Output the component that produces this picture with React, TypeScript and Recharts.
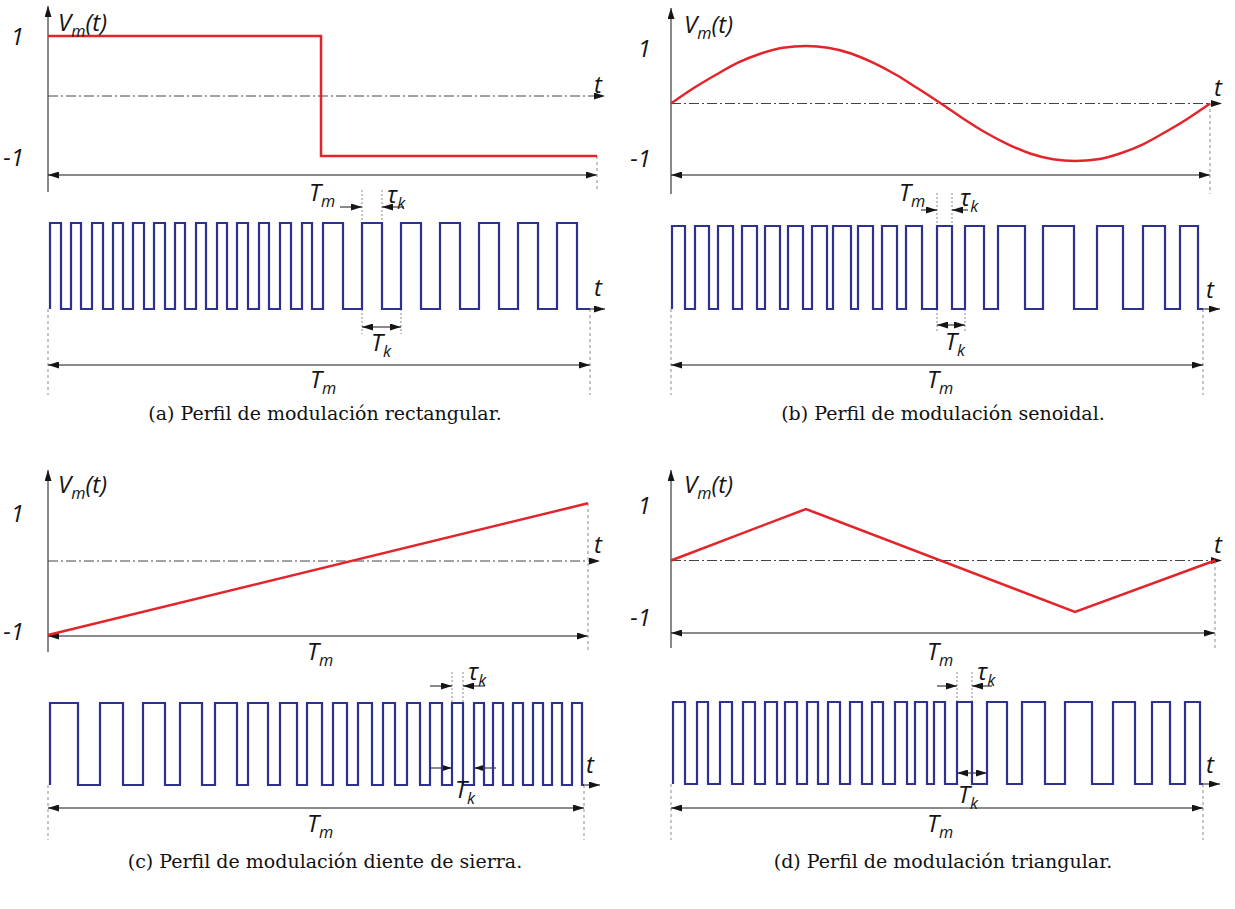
import React from "react";
import { LineChart, Line, XAxis, YAxis, ReferenceLine, ReferenceDot } from "recharts";

const W = 617;
const H = 440;
const RED = "#e4242b";
const BLUE = "#2f3190";
const INK = "#151515";
const GUIDE = "#8a8a8a";
const SANS = "'Open Sans', 'Noto Sans', sans-serif";
const SERIF = "'DejaVu Serif', 'Liberation Serif', serif";

// time is in arbitrary units, T_m spans roughly 540-550 of them

// (a) rectangular profile
const rectT = [0, 273, 273, 549];
const rectV = [1, 1, -1, -1];
const rectRise = [2, 23, 44, 65, 85, 106, 127, 148, 169, 189, 211, 232, 254, 275, 314, 353, 392, 431, 470, 509];
const rectFall = [13, 33, 55, 75, 96, 117, 137, 158, 179, 200, 221, 243, 264, 295, 334, 373, 412, 451, 490, 529];
const rectEnd = 542;

// (b) sine profile
const sineT = [0, 22, 45, 67, 90, 112, 135, 157, 180, 202, 225, 247, 270, 292, 314, 337, 359, 382, 404, 427, 449, 472, 494, 517, 539];
const sineV = [0, 0.26, 0.5, 0.71, 0.87, 0.97, 1, 0.97, 0.87, 0.71, 0.5, 0.26, 0, -0.26, -0.5, -0.71, -0.87, -0.97, -1, -0.97, -0.87, -0.71, -0.5, -0.26, 0];
const sineRise = [1, 24, 47, 71, 94, 117, 141, 162, 187, 211, 235, 266, 294, 327, 372, 426, 472, 509];
const sineFall = [14, 38, 62, 86, 109, 132, 156, 180, 202, 226, 251, 281, 313, 354, 403, 452, 494, 527];
const sineEnd = 532;

// (c) sawtooth profile
const sawT = [0, 540];
const sawV = [-1, 0.78];
const sawRise = [2, 52, 95, 132, 167, 200, 232, 259, 285, 310, 335, 359, 382, 404, 426, 445, 465, 485, 504, 524];
const sawFall = [30, 75, 117, 154, 189, 220, 249, 274, 299, 324, 347, 372, 394, 415, 436, 455, 475, 495, 514, 534];
const sawEnd = 536;

// (d) triangle profile
const triT = [0, 135, 404, 544];
const triV = [0, 1, -1, 0];
const triRise = [2, 26, 49, 72, 94, 114, 136, 157, 179, 201, 224, 244, 263, 286, 316, 351, 394, 442, 481, 514];
const triFall = [14, 37, 61, 84, 106, 126, 147, 169, 191, 212, 236, 256, 274, 301, 336, 374, 421, 464, 499, 529];
const triEnd = 532;

const toModulation = (t: number[], v: number[]) => t.map((x, i) => ({ t: x, v: v[i] }));

const toPulses = (rise: number[], fall: number[], end: number) => {
  const pts: { t: number; p: number }[] = [];
  rise.forEach((r, i) => {
    pts.push({ t: r, p: 0 }, { t: r, p: 1 }, { t: fall[i], p: 1 }, { t: fall[i], p: 0 });
  });
  pts.push({ t: end, p: 0 });
  return pts;
};

// domain so that value va lands on pixel pa and vb on pb
const fit = (va: number, pa: number, vb: number, pb: number): [number, number] => {
  const k = (pb - pa) / (va - vb);
  const max = va + pa / k;
  return [max - H / k, max];
};

type SegOpt = { start?: boolean; end?: boolean; dash?: string; color?: string; width?: number; axis?: string };

const seg = (key: string, x1: number, y1: number, x2: number, y2: number, o: SegOpt = {}) => (
  <ReferenceLine
    key={key}
    yAxisId={o.axis ?? "px"}
    ifOverflow="visible"
    segment={[{ x: x1, y: y1 }, { x: x2, y: y2 }]}
    shape={(p: any) => (
      <line
        x1={p.x1}
        y1={p.y1}
        x2={p.x2}
        y2={p.y2}
        stroke={o.color ?? INK}
        strokeWidth={o.width ?? 1}
        strokeDasharray={o.dash}
        markerStart={o.start ? "url(#arrowHead)" : undefined}
        markerEnd={o.end ? "url(#arrowHead)" : undefined}
      />
    )}
  />
);

const label = (key: string, x: number, y: number, main: string, sub = "", tail = "", anchor = "middle", size = 24) => (
  <ReferenceDot
    key={key}
    x={x}
    y={y}
    yAxisId="px"
    ifOverflow="visible"
    r={0}
    shape={(p: any) => (
      <text x={p.cx} y={p.cy} textAnchor={anchor} fontFamily={SANS} fontStyle="italic" fontSize={size} fill={INK}>
        {main}
        {sub && (
          <tspan dy={6} fontSize={size * 0.68}>
            {sub}
          </tspan>
        )}
        {tail && <tspan dy={-6}>{tail}</tspan>}
      </text>
    )}
  />
);

const caption = (key: string, x: number, y: number, text: string) => (
  <ReferenceDot
    key={key}
    x={x}
    y={y}
    yAxisId="px"
    ifOverflow="visible"
    r={0}
    shape={(p: any) => (
      <text x={p.cx} y={p.cy} textAnchor="middle" fontFamily={SERIF} fontSize={19} fill="#111">
        {text}
      </text>
    )}
  />
);

interface PanelCfg {
  id: string;
  left: number;
  top: number;
  xMin: number;
  modT: number[];
  modV: number[];
  curve: "linear" | "monotone";
  rise: number[];
  fall: number[];
  end: number;
  tm: number;
  vScale: [number, number, number, number];
  pScale: [number, number];
  axis: [number, number];
  vLabel: [number, number];
  one: [number, number];
  minus: [number, number];
  zeroEnd: number;
  tTop: [number, number];
  tmTop: number;
  tmDash: [number, number];
  tmTopLabel: [number, number];
  tau: number;
  tauArm: number;
  tauY: number;
  tauTop: number;
  tauLabel: [number, number];
  arrowEnd: number;
  tBot: [number, number];
  dashBottom: number;
  tkOut: boolean;
  tkY: number;
  tkLabel: [number, number];
  tmBot: number;
  tmBotLabel: [number, number];
  capX: number;
  capY: number;
  caption: string;
}

const panels: PanelCfg[] = [
  {
    id: "a", left: 0, top: 0, xMin: -48,
    modT: rectT, modV: rectV, curve: "linear",
    rise: rectRise, fall: rectFall, end: rectEnd, tm: 549,
    vScale: [1, 36, -1, 156], pScale: [223, 309],
    axis: [192, 6], vLabel: [10, 31], one: [-24, 45], minus: [-24, 166],
    zeroEnd: 557, tTop: [550, 93],
    tmTop: 175, tmDash: [156, 192], tmTopLabel: [274, 201],
    tau: 14, tauArm: 22, tauY: 207, tauTop: 190, tauLabel: [339, 203],
    arrowEnd: 557, tBot: [550, 296], dashBottom: 395,
    tkOut: false, tkY: 327, tkLabel: [333, 351],
    tmBot: 365, tmBotLabel: [275, 388],
    capX: 277, capY: 420, caption: "(a) Perfil de modulación rectangular.",
  },
  {
    id: "b", left: 617, top: 0, xMin: -54,
    modT: sineT, modV: sineV, curve: "monotone",
    rise: sineRise, fall: sineFall, end: sineEnd, tm: 539,
    vScale: [1, 46, -1, 161], pScale: [226, 309],
    axis: [194, 8], vLabel: [13, 33], one: [-20, 57], minus: [-20, 167],
    zeroEnd: 551, tTop: [547, 96],
    tmTop: 175, tmDash: [103, 194], tmTopLabel: [241, 201],
    tau: 11, tauArm: 16, tauY: 210, tauTop: 193, tauLabel: [289, 206],
    arrowEnd: 549, tBot: [539, 298], dashBottom: 395,
    tkOut: false, tkY: 325, tkLabel: [284, 350],
    tmBot: 365, tmBotLabel: [269, 388],
    capX: 272, capY: 420, caption: "(b) Perfil de modulación senoidal.",
  },
  {
    id: "c", left: 0, top: 440, xMin: -48,
    modT: sawT, modV: sawV, curve: "linear",
    rise: sawRise, fall: sawFall, end: sawEnd, tm: 540,
    vScale: [0, 121, -1, 195], pScale: [263, 345],
    axis: [212, 30], vLabel: [10, 53], one: [-24, 82], minus: [-24, 200],
    zeroEnd: 552, tTop: [550, 113],
    tmTop: 196, tmDash: [63, 212], tmTopLabel: [272, 220],
    tau: 13, tauArm: 22, tauY: 246, tauTop: 232, tauLabel: [420, 240],
    arrowEnd: 552, tBot: [542, 333], dashBottom: 400,
    tkOut: true, tkY: 328, tkLabel: [417, 358],
    tmBot: 368, tmBotLabel: [272, 392],
    capX: 277, capY: 428, caption: "(c) Perfil de modulación diente de sierra.",
  },
  {
    id: "d", left: 617, top: 440, xMin: -54,
    modT: triT, modV: triV, curve: "linear",
    rise: triRise, fall: triFall, end: triEnd, tm: 544,
    vScale: [1, 69, -1, 172], pScale: [262, 344],
    axis: [208, 30], vLabel: [13, 53], one: [-20, 74], minus: [-20, 186],
    zeroEnd: 551, tTop: [547, 113],
    tmTop: 193, tmDash: [121, 210], tmTopLabel: [269, 220],
    tau: 13, tauArm: 20, tauY: 246, tauTop: 232, tauLabel: [306, 240],
    arrowEnd: 549, tBot: [539, 333], dashBottom: 400,
    tkOut: false, tkY: 333, tkLabel: [297, 363],
    tmBot: 368, tmBotLabel: [269, 392],
    capX: 272, capY: 428, caption: "(d) Perfil de modulación triangular.",
  },
];

function annotations(c: PanelCfg) {
  const i = c.tau;
  const r0 = c.rise[i];
  const f0 = c.fall[i];
  const r1 = c.rise[i + 1];
  const [pHi, pLo] = c.pScale;
  const dotted = { dash: "2 2", color: GUIDE };
  const dashed = { dash: "3 3", color: GUIDE };
  const tk = c.tkOut
    ? [
        seg("tkL", r0 - 22, c.tkY, r0, c.tkY, { end: true }),
        seg("tkR", r1 + 22, c.tkY, r1, c.tkY, { end: true }),
      ]
    : [seg("tk", r0, c.tkY, r1, c.tkY, { start: true, end: true })];
  return [
    seg("vaxis", 0, c.axis[0], 0, c.axis[1], { end: true }),
    label("vm", c.vLabel[0], c.vLabel[1], "V", "m", "(t)", "start"),
    label("one", c.one[0], c.one[1], "1", "", "", "end"),
    label("minus", c.minus[0], c.minus[1], "-1", "", "", "end"),
    seg("zero", 0, 0, c.zeroEnd, 0, { end: true, dash: "10 3 2 3", color: "#444", axis: "v" }),
    label("tTop", c.tTop[0], c.tTop[1], "t"),
    seg("tmTop", 0, c.tmTop, c.tm, c.tmTop, { start: true, end: true }),
    seg("tmDash", c.tm, c.tmDash[0], c.tm, c.tmDash[1], dashed),
    label("tmTopL", c.tmTopLabel[0], c.tmTopLabel[1], "T", "m"),
    seg("tauA", r0, c.tauTop, r0, pHi, dotted),
    seg("tauB", f0, c.tauTop, f0, pHi, dotted),
    seg("tauL", r0 - c.tauArm, c.tauY, r0, c.tauY, { end: true }),
    seg("tauR", f0 + c.tauArm, c.tauY, f0, c.tauY, { end: true }),
    label("tauT", c.tauLabel[0], c.tauLabel[1], "τ", "k", "", "start"),
    seg("pArrow", c.end, pLo, c.arrowEnd, pLo, { end: true }),
    label("tBot", c.tBot[0], c.tBot[1], "t"),
    seg("dashL", 0, pLo, 0, c.dashBottom, dashed),
    seg("dashR", c.end, pLo, c.end, c.dashBottom, dashed),
    seg("tkA", r0, pLo, r0, c.tkY + 7, dotted),
    seg("tkB", r1, pLo, r1, c.tkY + 7, dotted),
    ...tk,
    label("tkT", c.tkLabel[0], c.tkLabel[1], "T", "k"),
    seg("tmBot", 0, c.tmBot, c.end, c.tmBot, { start: true, end: true }),
    label("tmBotL", c.tmBotLabel[0], c.tmBotLabel[1], "T", "m"),
    caption("cap", c.capX, c.capY, c.caption),
  ];
}

function Panel({ c }: { c: PanelCfg }) {
  const [va, pa, vb, pb] = c.vScale;
  return (
    <div style={{ position: "absolute", left: c.left, top: c.top }}>
      <LineChart width={W} height={H} margin={{ top: 0, right: 0, bottom: 0, left: 0 }}>
        <XAxis type="number" dataKey="t" domain={[c.xMin, c.xMin + W]} allowDataOverflow hide />
        <YAxis yAxisId="v" type="number" domain={fit(va, pa, vb, pb)} allowDataOverflow hide />
        <YAxis yAxisId="p" type="number" domain={fit(1, c.pScale[0], 0, c.pScale[1])} allowDataOverflow hide />
        <YAxis yAxisId="px" type="number" domain={[0, H]} reversed allowDataOverflow hide />
        {annotations(c)}
        <Line
          yAxisId="v"
          data={toModulation(c.modT, c.modV)}
          dataKey="v"
          type={c.curve}
          stroke={RED}
          strokeWidth={2.5}
          dot={false}
          activeDot={false}
          isAnimationActive={false}
        />
        <Line
          yAxisId="p"
          data={toPulses(c.rise, c.fall, c.end)}
          dataKey="p"
          type="linear"
          stroke={BLUE}
          strokeWidth={2.2}
          dot={false}
          activeDot={false}
          isAnimationActive={false}
        />
      </LineChart>
    </div>
  );
}

export default function App() {
  return (
    <div style={{ position: "absolute", left: 0, top: 0, width: 1235, height: 909, background: "#fff" }}>
      <svg width={0} height={0} style={{ position: "absolute" }}>
        <defs>
          <marker
            id="arrowHead"
            viewBox="0 0 11 7"
            refX={11}
            refY={3.5}
            markerWidth={11}
            markerHeight={7}
            markerUnits="userSpaceOnUse"
            orient="auto-start-reverse"
          >
            <path d="M0,0 L11,3.5 L0,7 z" fill={INK} />
          </marker>
        </defs>
      </svg>
      {panels.map((c) => (
        <Panel key={c.id} c={c} />
      ))}
    </div>
  );
}
